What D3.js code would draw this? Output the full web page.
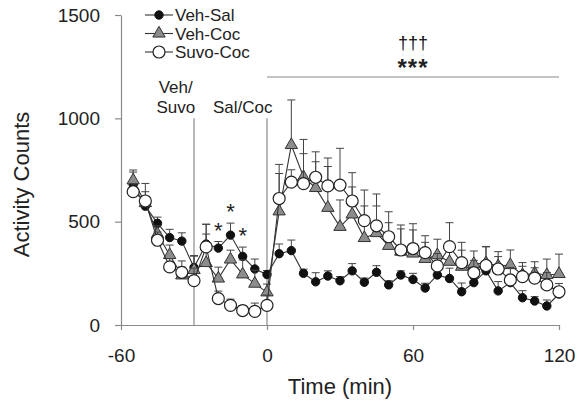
<!DOCTYPE html>
<html>
<head>
<meta charset="utf-8">
<script src="https://cdn.jsdelivr.net/npm/d3@7"></script>
<style>
  body { margin: 0; background: #fff; }
  text { font-family: "Liberation Sans", Arial, sans-serif; fill: #222; }
</style>
</head>
<body>
<div class="chart"></div>
<script>
// time points, every 5 min
var times = [-55, -50, -45, -40, -35, -30, -25, -20, -15, -10, -5, 0,
    5, 10, 15, 20, 25, 30, 35, 40, 45, 50, 55, 60,
    65, 70, 75, 80, 85, 90, 95, 100, 105, 110, 115, 120];

var vehSal = [680, 575, 492, 423, 406, 278, 392, 372, 435, 332, 271, 244,
    345, 360, 250, 209, 237, 214, 262, 207, 255, 194, 242, 220,
    179, 242, 225, 161, 205, 262, 165, 205, 132, 116, 92, 150];
var vehSalErr = [60, 45, 30, 40, 40, 55, 95, 32, 58, 45, 48, 20,
    47, 51, 20, 44, 25, 20, 35, 20, 32, 20, 20, 30,
    23, 20, 50, 42, 20, 25, 45, 20, 34, 21, 29, 20];

var vehCoc = [700, 590, 440, 339, 240, 266, 300, 225, 317, 245, 200, 158,
    550, 871, 716, 663, 567, 475, 535, 421, 445, 383, 355, 346,
    320, 338, 306, 282, 295, 300, 285, 290, 242, 250, 242, 247];
var vehCocErr = [50, 95, 40, 48, 40, 70, 140, 55, 45, 70, 65, 40,
    183, 218, 182, 127, 200, 130, 133, 155, 131, 112, 110, 114,
    80, 77, 70, 118, 63, 80, 70, 73, 60, 56, 77, 96];

var suvoCoc = [645, 600, 410, 281, 255, 215, 378, 128, 95, 70, 66, 95,
    612, 691, 684, 715, 673, 677, 600, 505, 480, 427, 363, 370,
    350, 286, 379, 302, 253, 288, 271, 218, 234, 227, 194, 161];
var suvoCocErr = [40, 45, 40, 40, 55, 60, 110, 36, 30, 22, 40, 50,
    165, 60, 145, 123, 135, 178, 137, 148, 154, 121, 121, 120,
    82, 60, 116, 60, 60, 90, 60, 60, 50, 50, 60, 40];

var xTicks = [-60, 0, 60, 120];
var yTicks = [0, 500, 1000, 1500];
var seriesNames = ['Veh-Sal', 'Veh-Coc', 'Suvo-Coc'];
var sigTimes = [-20, -15, -10];   // Veh-Sal vs Veh-Coc, pre-injection

var W = 577, H = 408;
var x = d3.scaleLinear().domain([-60, 120]).range([121, 559]);
var y = d3.scaleLinear().domain([0, 1500]).range([325, 15]);

var svg = d3.select('.chart').append('svg')
    .attr('width', W).attr('height', H);

var axisColor = '#8a8a8a', ink = '#333';
var plain = function (d) { return String(d); };   // keep "-60" and "1500" as in the figure

// axes
var yAxis = svg.append('g')
    .attr('transform', 'translate(' + x(-60) + ',0)')
    .call(d3.axisLeft(y).tickValues(yTicks).tickFormat(plain)
        .tickSize(6).tickSizeOuter(0).tickPadding(15));
var xAxis = svg.append('g')
    .attr('transform', 'translate(0,' + y(0) + ')')
    .call(d3.axisBottom(x).tickValues(xTicks).tickFormat(plain)
        .tickSize(5).tickSizeOuter(0).tickPadding(19));
[xAxis, yAxis].forEach(function (a) {
    a.select('.domain').attr('stroke', axisColor).attr('stroke-width', 1.2);
    a.selectAll('.tick line').attr('stroke', axisColor).attr('stroke-width', 1.2);
    a.selectAll('.tick text').style('font-size', '19px').attr('fill', '#222');
});

svg.append('text')
    .attr('x', x(30)).attr('y', 394)
    .attr('text-anchor', 'middle')
    .style('font-size', '22px')
    .text('Time (min)');
svg.append('text')
    .attr('transform', 'translate(29,' + y(680) + ') rotate(-90)')
    .attr('text-anchor', 'middle')
    .style('font-size', '22px')
    .text('Activity Counts');

// treatment markers
[-30, 0].forEach(function (t) {
    svg.append('line')
        .attr('x1', x(t)).attr('x2', x(t))
        .attr('y1', y(0)).attr('y2', y(1000))
        .attr('stroke', axisColor).attr('stroke-width', 1.2);
});
svg.append('text').attr('x', x(-37.5)).attr('y', y(1000) - 25)
    .attr('text-anchor', 'middle').style('font-size', '17px').text('Veh/');
svg.append('text').attr('x', x(-37.5)).attr('y', y(1000) - 5)
    .attr('text-anchor', 'middle').style('font-size', '17px').text('Suvo');
svg.append('text').attr('x', x(-10)).attr('y', y(1000) - 5)
    .attr('text-anchor', 'middle').style('font-size', '17px').text('Sal/Coc');

// significance bar after injection
svg.append('line')
    .attr('x1', x(0)).attr('x2', x(120))
    .attr('y1', y(1200)).attr('y2', y(1200))
    .attr('stroke', axisColor).attr('stroke-width', 1.2);
svg.append('text').attr('x', x(60)).attr('y', y(1370) + 7)
    .attr('text-anchor', 'middle').style('font-size', '18px')
    .style('fill', '#111').text('\u2020\u2020\u2020');
svg.append('text').attr('x', x(60)).attr('y', y(1268) + 13)
    .attr('text-anchor', 'middle').style('font-size', '24px')
    .style('font-weight', 'bold').attr('letter-spacing', '1px').text('***');

// series
var series = [
    { name: 'Veh-Sal', vals: vehSal, err: vehSalErr, shape: 'dot' },
    { name: 'Veh-Coc', vals: vehCoc, err: vehCocErr, shape: 'tri' },
    { name: 'Suvo-Coc', vals: suvoCoc, err: suvoCocErr, shape: 'open' }
];

function drawMarker(g, shape) {
    if (shape === 'dot') {
        g.append('circle').attr('r', 4.2).attr('fill', '#111').attr('stroke', '#111');
    } else if (shape === 'tri') {
        g.append('path').attr('d', d3.symbol().type(d3.symbolTriangle).size(66)())
            .attr('fill', '#8c8c8c').attr('stroke', '#333').attr('stroke-width', 1);
    } else {
        g.append('circle').attr('r', 6).attr('fill', '#fff')
            .attr('stroke', '#222').attr('stroke-width', 1.2);
    }
}

var line = d3.line()
    .x(function (d) { return x(d.t); })
    .y(function (d) { return y(d.v); });

series.forEach(function (s) {
    var pts = times.map(function (t, i) { return { t: t, v: s.vals[i], e: s.err[i] }; });
    var g = svg.append('g');

    // error bars (upper only)
    var eb = g.selectAll('.eb').data(pts).enter().append('g')
        .attr('stroke', '#444').attr('stroke-width', 1);
    eb.append('line')
        .attr('x1', function (d) { return x(d.t); })
        .attr('x2', function (d) { return x(d.t); })
        .attr('y1', function (d) { return y(d.v); })
        .attr('y2', function (d) { return y(d.v + d.e); });
    eb.append('line')
        .attr('x1', function (d) { return x(d.t) - 4; })
        .attr('x2', function (d) { return x(d.t) + 4; })
        .attr('y1', function (d) { return y(d.v + d.e); })
        .attr('y2', function (d) { return y(d.v + d.e); });

    g.append('path').datum(pts)
        .attr('d', line)
        .attr('fill', 'none').attr('stroke', ink).attr('stroke-width', 1.1);

    g.selectAll('.m').data(pts).enter().append('g')
        .attr('transform', function (d) { return 'translate(' + x(d.t) + ',' + y(d.v) + ')'; })
        .each(function () { drawMarker(d3.select(this), s.shape); });
});

// asterisks over Veh-Sal
sigTimes.forEach(function (t) {
    var i = times.indexOf(t);
    svg.append('text')
        .attr('x', x(t)).attr('y', y(vehSal[i] + vehSalErr[i]) - 4)
        .attr('text-anchor', 'middle')
        .style('font-size', '22px')
        .text('*');
});

// legend
var legend = svg.append('g').attr('transform', 'translate(145,15)');
series.forEach(function (s, i) {
    var row = legend.append('g').attr('transform', 'translate(0,' + (i * 18.5) + ')');
    row.append('line').attr('x1', 0).attr('x2', 28).attr('y1', 0).attr('y2', 0)
        .attr('stroke', ink).attr('stroke-width', 1.1);
    var m = row.append('g').attr('transform', 'translate(14,0)');
    drawMarker(m, s.shape);
    row.append('text').attr('x', 30).attr('y', 6)
        .style('font-size', '17px').text(seriesNames[i]);
});
</script>
</body>
</html>
